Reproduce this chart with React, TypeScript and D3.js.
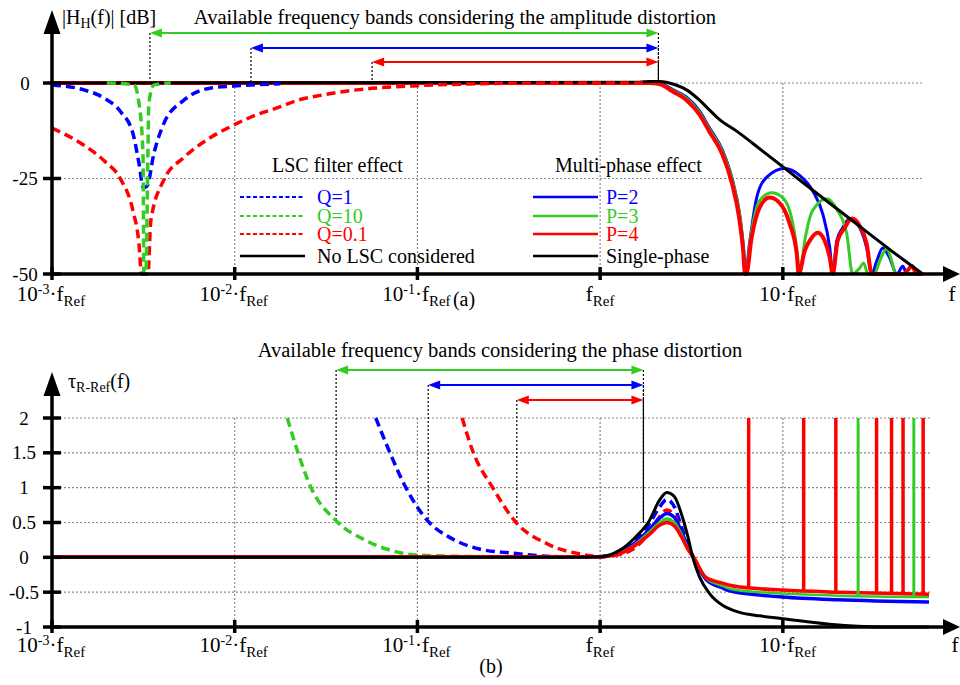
import React from "react";
import * as d3 from "d3";

// every point is [log10(f / fRef), value]
type Pt = [number, number];

// ---------- (a) |H_H(f)| in dB ----------
const magQ1: Pt[] = [[-3.0, -0.5], [-2.825, -1.8], [-2.716, -3.9], [-2.623, -7.6], [-2.557, -13.2], [-2.524, -21], [-2.5, -27.4], [-2.48, -27], [-2.442, -18.4], [-2.387, -10.5], [-2.278, -4.5], [-2.13, -1.3], [-2.009, -0.8], [-1.911, -0.5], [-1.75, -0.2]];
const magQ10: Pt[] = [[-2.7, 0], [-2.551, -0.5], [-2.524, -5.3], [-2.502, -18.4], [-2.497, -50], [-2.486, -50], [-2.475, -18.4], [-2.47, -5.3], [-2.442, -0.5], [-2.35, 0]];
const magQ01: Pt[] = [[-3.0, -11.8], [-2.825, -16.3], [-2.716, -20.3], [-2.623, -25.3], [-2.557, -33.4], [-2.524, -42.1], [-2.51, -50], [-2.475, -50], [-2.459, -36], [-2.387, -25.3], [-2.278, -19.5], [-2.13, -14.2], [-2.009, -11.1], [-1.911, -8.9], [-1.75, -6.2], [-1.648, -4.4], [-1.538, -3.3], [-1.401, -2.2], [-1.248, -1.4], [-1.0, -0.7], [-0.716, -0.25], [-0.45, -0.05], [0.25, 0]];
const magSingle: Pt[] = [[-3, 0], [0.215, 0.2], [0.27, 0.4], [0.325, 0.4], [0.407, -0.4], [0.473, -1.8], [0.544, -4.5], [0.599, -7.1], [0.654, -9.6], [0.747, -12.6], [0.873, -17.2], [0.994, -21.7], [1.092, -25.4], [1.328, -34.1], [1.602, -44.2], [1.766, -50]];
const magP2: Pt[] = [[-3, 0], [0.215, 0.1], [0.27, 0.1], [0.325, 0], [0.4, -1.8], [0.473, -3.7], [0.544, -7.3], [0.599, -11.8], [0.67, -17.6], [0.725, -25.5], [0.763, -34.2], [0.785, -43.2], [0.796, -50], [0.818, -41.9], [0.857, -30], [0.911, -24.7], [1.01, -22.4], [1.092, -24.2], [1.163, -28.2], [1.218, -34.2], [1.257, -43.2], [1.273, -50], [1.295, -41.3], [1.328, -37.9], [1.366, -35.5], [1.421, -37.9], [1.459, -43.2], [1.487, -50], [1.514, -46.6], [1.547, -43.2], [1.585, -45.8], [1.624, -50], [1.657, -48], [1.679, -50], [1.766, -50]];
const magP3: Pt[] = [[-3, 0], [0.215, 0.1], [0.27, 0.1], [0.325, -0.1], [0.4, -2], [0.473, -4], [0.544, -7.7], [0.599, -12.2], [0.67, -18], [0.725, -25.8], [0.763, -34.5], [0.785, -43.5], [0.796, -50], [0.829, -38.7], [0.873, -30.8], [0.939, -28.7], [0.999, -30], [1.048, -35.3], [1.076, -43.2], [1.092, -50], [1.12, -41.3], [1.163, -33.4], [1.24, -30.3], [1.3, -33.4], [1.35, -39.5], [1.382, -50], [1.421, -48.4], [1.443, -47.1], [1.465, -50], [1.5, -50], [1.53, -46.6], [1.569, -43.4], [1.596, -46.6], [1.618, -50], [1.766, -50]];
const magP4: Pt[] = [[-3, 0], [0.215, 0], [0.27, 0], [0.325, -0.3], [0.4, -2.3], [0.473, -4.5], [0.544, -8.3], [0.599, -12.8], [0.67, -18.8], [0.72, -26], [0.76, -35], [0.783, -44], [0.793, -50], [0.8, -50], [0.829, -40.5], [0.873, -32.6], [0.928, -30], [0.994, -32.1], [1.037, -36.8], [1.076, -44.7], [1.087, -50], [1.12, -43.9], [1.158, -40.5], [1.191, -39.2], [1.229, -41.3], [1.257, -45.8], [1.273, -50], [1.3, -41.3], [1.339, -37.9], [1.377, -35.5], [1.421, -37.4], [1.459, -42.1], [1.487, -50], [1.66, -50], [1.684, -49], [1.706, -47.9], [1.733, -50], [1.766, -50]];

// ---------- (b) tau_R-Ref(f) ----------
const tauQ10: Pt[] = [[-1.712, 2], [-1.657, 1.53], [-1.584, 1.01], [-1.447, 0.53], [-1.281, 0.24], [-1.1, 0.07], [-0.99, 0.03], [-0.661, 0.01], [-0.223, 0], [0.005, 0.01], [0.106, 0.06], [0.197, 0.2], [0.27, 0.37], [0.325, 0.5], [0.365, 0.55], [0.407, 0.5], [0.444, 0.34], [0.48, 0.13], [0.51, 0]];
const tauQ1: Pt[] = [[-1.228, 2], [-1.155, 1.53], [-1.063, 1.0], [-0.935, 0.5], [-0.826, 0.29], [-0.661, 0.12], [-0.481, 0.06], [-0.223, 0.01], [0.005, 0.01], [0.106, 0.08], [0.197, 0.25], [0.27, 0.48], [0.325, 0.72], [0.365, 0.83], [0.407, 0.72], [0.444, 0.45], [0.48, 0.18], [0.51, 0]];
const tauQ01: Pt[] = [[-0.755, 2], [-0.698, 1.53], [-0.588, 1.0], [-0.46, 0.5], [-0.294, 0.2], [-0.223, 0.12], [-0.13, 0.06], [-0.004, 0.01], [0.106, 0.04], [0.197, 0.15], [0.27, 0.36], [0.325, 0.58], [0.365, 0.68], [0.407, 0.6], [0.444, 0.38], [0.48, 0.15], [0.51, 0]];
const tauSingle: Pt[] = [[-3, 0], [-0.223, 0], [0.005, 0.01], [0.106, 0.1], [0.197, 0.3], [0.27, 0.53], [0.325, 0.82], [0.365, 0.93], [0.407, 0.87], [0.444, 0.63], [0.48, 0.3], [0.507, 0], [0.544, -0.28], [0.599, -0.52], [0.672, -0.69], [0.709, -0.74], [0.763, -0.79], [0.873, -0.84], [0.999, -0.88], [1.256, -0.96], [1.53, -1.0], [1.8, -1.0]];
const tauP2: Pt[] = [[-3, 0], [-0.223, 0], [0.005, 0.01], [0.106, 0.07], [0.197, 0.22], [0.27, 0.4], [0.325, 0.56], [0.365, 0.63], [0.407, 0.57], [0.444, 0.38], [0.48, 0.15], [0.51, 0], [0.58, -0.32], [0.67, -0.44], [0.709, -0.48], [0.873, -0.54], [0.999, -0.57], [1.3, -0.61], [1.8, -0.64]];
const tauP3: Pt[] = [[-3, 0], [-0.223, 0], [0.005, 0.01], [0.106, 0.06], [0.197, 0.2], [0.27, 0.37], [0.325, 0.5], [0.365, 0.55], [0.407, 0.5], [0.444, 0.34], [0.48, 0.13], [0.51, 0], [0.58, -0.3], [0.67, -0.41], [0.709, -0.45], [0.873, -0.5], [0.999, -0.52], [1.3, -0.55], [1.8, -0.57]];
const tauP4: Pt[] = [[-3, 0.01], [-0.223, 0.01], [0.005, 0.01], [0.106, 0.05], [0.197, 0.18], [0.27, 0.33], [0.325, 0.46], [0.365, 0.5], [0.407, 0.45], [0.444, 0.3], [0.48, 0.12], [0.512, 0], [0.58, -0.29], [0.67, -0.37], [0.709, -0.4], [0.873, -0.45], [0.999, -0.47], [1.3, -0.5], [1.8, -0.53]];
// phase jumps: [log10(f/fRef), value where the jump starts]
const tauP4Jumps: Pt[] = [[0.813, -0.43], [1.114, -0.48], [1.29, -0.5], [1.513, -0.51], [1.595, -0.52], [1.658, -0.52], [1.768, -0.53]];
const tauP3Jumps: Pt[] = [[1.412, -0.55], [1.717, -0.57]];

// available bands [from, to] in log10(f/fRef)
const ampBandGreen = [-2.464, 0.319];
const ampBandBlue = [-1.911, 0.319];
const ampBandRed = [-1.248, 0.319];
const phaseBandGreen = [-1.445, 0.237];
const phaseBandBlue = [-0.941, 0.237];
const phaseBandRed = [-0.456, 0.237];

// ticks
const xTicks = [1e-3, 1e-2, 1e-1, 1, 10];
const xTickBase = ["10", "10", "10", "", "10"];
const xTickSup = ["-3", "-2", "-1", "", ""];
const yTicksA = [0, -25, -50];
const yTicksB = [2, 1.5, 1, 0.5, 0, -0.5, -1];

const FONT = "Liberation Serif, Times New Roman, Times, DejaVu Serif, serif";
const BLUE = "#0000ff";
const GREEN = "#33cc22";
const RED = "#ff0000";
const GRID = "#8a8a8a";

const x = d3.scaleLog().domain([1e-3, 10 ** 1.8]).range([52, 929]);
const yA = d3.scaleLinear().domain([-50, 0]).range([274, 83]);
const yB = d3.scaleLinear().domain([-1, 2]).range([627, 418]);
const X0 = x(1e-3);

const lineA = d3.line<Pt>().x(d => x(10 ** d[0])).y(d => yA(d[1])).curve(d3.curveMonotoneX);
const lineB = d3.line<Pt>().x(d => x(10 ** d[0])).y(d => yB(d[1])).curve(d3.curveMonotoneX);

const Curve = ({ d, color, w, dashed }: { d: string | null; color: string; w: number; dashed?: boolean }) => (
  <path d={d || ""} fill="none" stroke={color} strokeWidth={w} strokeDasharray={dashed ? "9,5" : undefined} strokeLinejoin="round" />
);

const Head = ({ tx, y, dir, color }: { tx: number; y: number; dir: number; color: string }) => (
  <polygon points={`${tx},${y} ${tx + dir * 12},${y - 4.5} ${tx + dir * 12},${y + 4.5}`} fill={color} />
);

const Band = ({ band, y, color, dropTo }: { band: number[]; y: number; color: string; dropTo: number }) => {
  const x1 = x(10 ** band[0]);
  const x2 = x(10 ** band[1]);
  return (
    <g>
      <line x1={x1} x2={x1} y1={y} y2={dropTo} stroke="#000" strokeWidth={1.2} strokeDasharray="2,2" />
      <line x1={x2} x2={x2} y1={y} y2={dropTo} stroke="#000" strokeWidth={1.2} strokeDasharray="2,2" />
      <line x1={x1 + 8} x2={x2 - 8} y1={y} y2={y} stroke={color} strokeWidth={2} />
      <Head tx={x1} y={y} dir={1} color={color} />
      <Head tx={x2} y={y} dir={-1} color={color} />
    </g>
  );
};

const XLabels = ({ base }: { base: number }) => (
  <g fontSize={21}>
    {xTicks.map((t, i) => {
      const px = x(t);
      if (xTickBase[i] === "")
        return (
          <text key={i} x={px} y={base} textAnchor="middle">
            f<tspan fontSize={15} dy={5}>Ref</tspan>
          </text>
        );
      return (
        <g key={i}>
          <text x={px - 2.5} y={base} textAnchor="end">
            {xTickBase[i]}
            {xTickSup[i] && <tspan fontSize={14} dy={-7}>{xTickSup[i]}</tspan>}
          </text>
          <text x={px - 2.5} y={base}>
            ·f<tspan fontSize={15} dy={5}>Ref</tspan>
          </text>
        </g>
      );
    })}
  </g>
);

const Grid = ({ axisY, y, gridVals, gridTop, gridRight }: any) => (
  <g>
    {gridVals.map((v: number) => (
      <line key={"h" + v} x1={X0} x2={gridRight} y1={y(v)} y2={y(v)} stroke={GRID} strokeWidth={1.2} strokeDasharray="2,2" />
    ))}
    {xTicks.slice(1).map(t => (
      <line key={"v" + t} x1={x(t)} x2={x(t)} y1={gridTop} y2={axisY} stroke={GRID} strokeWidth={1.2} strokeDasharray="2,2" />
    ))}
  </g>
);

const Axes = ({ axisY, topY, ticksY, y }: any) => (
  <g stroke="#000" strokeWidth={3.5}>
    <line x1={X0} x2={X0} y1={axisY + 1.5} y2={topY + 20} />
    <line x1={X0 - 1.5} x2={944} y1={axisY} y2={axisY} />
    {ticksY.map((v: number) => (
      <line key={v} x1={X0 - 9} x2={X0 + 9} y1={y(v)} y2={y(v)} />
    ))}
    {xTicks.map(t => (
      <line key={t} x1={x(t)} x2={x(t)} y1={axisY - 7} y2={axisY + 6} />
    ))}
    <polygon points={`${X0},${topY} ${X0 - 8.5},${topY + 24} ${X0 + 8.5},${topY + 24}`} fill="#000" stroke="none" />
    <polygon points={`960,${axisY} 943,${axisY - 8} 943,${axisY + 8}`} fill="#000" stroke="none" />
  </g>
);

const legendLSC = [
  { label: "Q=1", color: BLUE, dashed: true },
  { label: "Q=10", color: GREEN, dashed: true },
  { label: "Q=0.1", color: RED, dashed: true },
  { label: "No LSC considered", color: "#000", dashed: false },
];
const legendMP = [
  { label: "P=2", color: BLUE },
  { label: "P=3", color: GREEN },
  { label: "P=4", color: RED },
  { label: "Single-phase", color: "#000" },
];
const rowY = [197, 216, 234, 256];

export default function App() {
  return (
    <svg width={960} height={685} style={{ position: "absolute", left: 0, top: 0, display: "block", fontFamily: FONT }}>
      <rect width={960} height={685} fill="#fff" />

      {/* ---------------- (a) ---------------- */}
      <Grid axisY={yA(-50)} gridVals={[0, -25]} y={yA} gridTop={yA(0)} gridRight={922} />
      <text x={455} y={24} fontSize={20.6} textAnchor="middle">Available frequency bands considering the amplitude distortion</text>
      <text x={62} y={24} fontSize={20}>
        |H<tspan fontSize={14} dy={4}>H</tspan><tspan dy={-4}>(f)| [dB]</tspan>
      </text>
      <Band band={ampBandGreen} y={33} color={GREEN} dropTo={yA(0)} />
      <Band band={ampBandBlue} y={48} color={BLUE} dropTo={yA(0)} />
      <Band band={ampBandRed} y={62} color={RED} dropTo={yA(0)} />

      <Curve d={lineA(magP2)} color={BLUE} w={3} />
      <Curve d={lineA(magP3)} color={GREEN} w={3} />
      <Curve d={lineA(magP4)} color={RED} w={4} />
      <Curve d={lineA(magSingle)} color="#000" w={3} />
      <Curve d={lineA(magQ01)} color={RED} w={3.5} dashed />
      <Curve d={lineA(magQ1)} color={BLUE} w={3.5} dashed />
      <Curve d={lineA(magQ10)} color={GREEN} w={3.5} dashed />

      <Axes axisY={yA(-50)} topY={10} ticksY={yTicksA} y={yA} />
      <g fontSize={19} textAnchor="middle">
        {yTicksA.map(v => (
          <text key={v} x={25} y={yA(v)} dy="0.35em">{v}</text>
        ))}
      </g>
      <XLabels base={301} />
      <text x={952} y={301} fontSize={21} textAnchor="middle">f</text>
      <text x={464} y={306} fontSize={20} textAnchor="middle">(a)</text>

      {/* legend */}
      <g fontSize={20}>
        <text x={272} y={172}>LSC filter effect</text>
        <text x={555} y={172}>Multi-phase effect</text>
        {legendLSC.map((l, i) => (
          <g key={l.label}>
            <line x1={240} x2={305} y1={rowY[i]} y2={rowY[i]} stroke={l.color} strokeWidth={l.dashed ? 2 : 2.6} strokeDasharray={l.dashed ? "4,2.5" : undefined} />
            <text x={317} y={rowY[i] + 6.5} fill={l.color}>{l.label}</text>
          </g>
        ))}
        {legendMP.map((l, i) => (
          <g key={l.label}>
            <line x1={533} x2={598} y1={rowY[i]} y2={rowY[i]} stroke={l.color} strokeWidth={2.6} />
            <text x={606} y={rowY[i] + 6.5} fill={l.color}>{l.label}</text>
          </g>
        ))}
      </g>

      {/* ---------------- (b) ---------------- */}
      <Grid axisY={yB(-1)} gridVals={[2, 1.5, 1, 0.5, 0, -0.5]} y={yB} gridTop={yB(2)} gridRight={932} />
      <text x={500} y={357} fontSize={20.5} textAnchor="middle">Available frequency bands considering the phase distortion</text>
      <text x={68} y={388} fontSize={20}>
        τ<tspan fontSize={14} dy={4}>R-Ref</tspan><tspan dy={-4}>(f)</tspan>
      </text>
      <Band band={phaseBandGreen} y={370} color={GREEN} dropTo={yB(0.5)} />
      <Band band={phaseBandBlue} y={385} color={BLUE} dropTo={yB(0.5)} />
      <Band band={phaseBandRed} y={400} color={RED} dropTo={yB(0.5)} />

      <Curve d={lineB(tauQ10)} color={GREEN} w={3.5} dashed />
      <Curve d={lineB(tauQ1)} color={BLUE} w={3.5} dashed />
      <Curve d={lineB(tauQ01)} color={RED} w={3.5} dashed />
      <Curve d={lineB(tauP2)} color={BLUE} w={3.5} />
      <Curve d={lineB(tauP3)} color={GREEN} w={2.5} />
      <Curve d={lineB(tauP4)} color={RED} w={3.5} />
      {tauP3Jumps.map(([lf, v]) => (
        <line key={lf} x1={x(10 ** lf)} x2={x(10 ** lf)} y1={yB(v)} y2={yB(2)} stroke={GREEN} strokeWidth={3} />
      ))}
      {tauP4Jumps.map(([lf, v]) => (
        <line key={lf} x1={x(10 ** lf)} x2={x(10 ** lf)} y1={yB(v)} y2={yB(2)} stroke={RED} strokeWidth={3.5} />
      ))}
      <Curve d={lineB(tauSingle)} color="#000" w={3} />

      <Axes axisY={yB(-1)} topY={372} ticksY={yTicksB} y={yB} />
      <g fontSize={19} textAnchor="middle">
        {yTicksB.map(v => (
          <text key={v} x={24} y={yB(v)} dy="0.35em">{v}</text>
        ))}
      </g>
      <XLabels base={652} />
      <text x={955} y={652} fontSize={21} textAnchor="middle">f</text>
      <text x={491} y={673} fontSize={20} textAnchor="middle">(b)</text>
    </svg>
  );
}
